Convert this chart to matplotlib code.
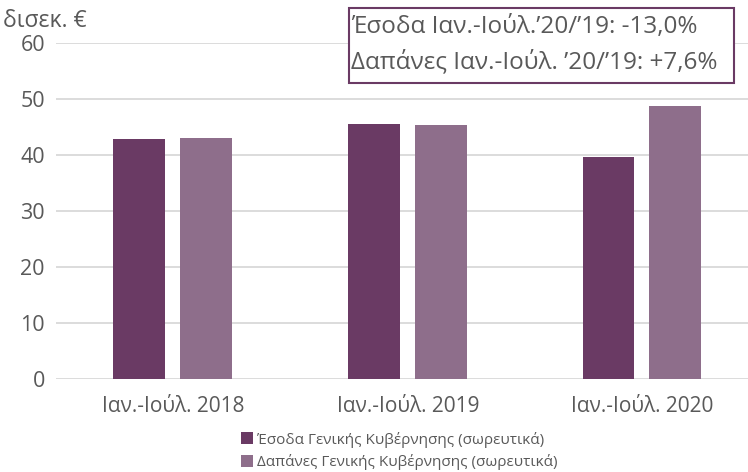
import matplotlib.pyplot as plt
import numpy as np

plt.rcParams['font.family'] = ['Open Sans', 'DejaVu Sans']

# Έσοδα / Δαπάνες Γενικής Κυβέρνησης, δισεκ. €
periods = ['Ιαν.-Ιούλ. 2018', 'Ιαν.-Ιούλ. 2019', 'Ιαν.-Ιούλ. 2020']
revenue = [42.8, 45.6, 39.7]
spending = [43.1, 45.4, 48.8]
series_names = ['Έσοδα Γενικής Κυβέρνησης (σωρευτικά)',
                'Δαπάνες Γενικής Κυβέρνησης (σωρευτικά)']
note_lines = ['Έσοδα Ιαν.-Ιούλ.’20/’19: -13,0%',
              'Δαπάνες Ιαν.-Ιούλ. ’20/’19: +7,6%']

dark = '#6a3a64'
light = '#8e6e8b'
grey_txt = '#595959'

fig = plt.figure(figsize=(7.48, 4.72), dpi=100)
ax = fig.add_axes([56/748, 1 - 379/472, 692/748, (379-43)/472])

x = np.arange(len(periods))
w = 0.22
ax.bar(x - 0.145, revenue, w, color=dark, label=series_names[0], zorder=3)
ax.bar(x + 0.14, spending, w, color=light, label=series_names[1], zorder=3)

ax.set_ylim(0, 60)
ax.set_xlim(-0.5, 2.45)
ax.set_yticks(range(0, 61, 10))
ax.yaxis.grid(True, color='#d9d9d9', lw=1.3)
ax.set_axisbelow(True)
for s in ax.spines.values():
    s.set_visible(False)
ax.tick_params(length=0, colors=grey_txt)
ax.tick_params(axis='y', pad=8, labelsize=15.5)
ax.tick_params(axis='x', pad=12, labelsize=15)
ax.set_xticks(x)
ax.set_xticklabels(periods)

fig.text(3/748, 1 - 21/472, 'δισεκ. €', fontsize=16.5, color=grey_txt, va='center')

# πλαίσιο με τις μεταβολές
fig.patches.append(plt.Rectangle((349/748, 1 - 83/472), 385/748, 75/472,
                                 transform=fig.transFigure, fill=True,
                                 facecolor='white', edgecolor=dark, lw=1.5,
                                 zorder=5))
fig.text(351/748, 1 - 27/472, note_lines[0], fontsize=17.5, color=grey_txt,
         va='center', zorder=6)
fig.text(351/748, 1 - 62/472, note_lines[1], fontsize=17.5, color=grey_txt,
         va='center', zorder=6)

fig.legend(loc='center', bbox_to_anchor=(399/748, 1 - 451/472), ncol=1,
           frameon=False, fontsize=11, labelcolor=grey_txt,
           handlelength=0.8, handleheight=0.8, handletextpad=0.25,
           labelspacing=0.45, borderpad=0)

fig.savefig('out.png', dpi=100)
